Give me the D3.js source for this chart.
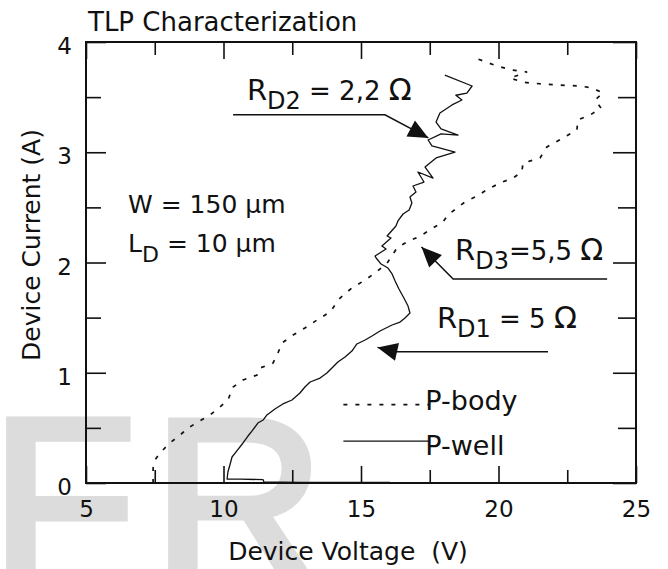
<!DOCTYPE html>
<html>
<head>
<meta charset="utf-8">
<script src="https://cdn.jsdelivr.net/npm/d3@7"></script>
<style>
  body { margin: 0; background: #fff; }
  text { font-family: "DejaVu Sans", sans-serif; fill: #111; }
</style>
</head>
<body>
<div id="chart"></div>
<script>
// x ticks (V) and y ticks (A)
const xMajor = [5, 10, 15, 20, 25];
const xMinor = [7.5, 12.5, 17.5, 22.5];
const yMajor = [0, 1, 2, 3, 4];
const yMinor = [0.5, 1.5, 2.5, 3.5];

// P-well (solid) measured points
const pwellV = [16.05, 12.78, 11.47, 11.44, 10.6, 10.13, 10.16, 10.24, 10.31, 10.45, 10.71, 10.89, 11.04, 11.25, 11.44,
  11.58, 11.87, 12.16, 12.49, 12.78, 12.96, 13.15, 13.51, 13.76, 13.98, 14.16, 14.42, 14.67, 14.85, 15.15, 15.40,
  15.69, 16.13, 16.42, 16.6, 16.78, 16.71, 16.56, 16.38, 16.24, 16.13, 15.98, 15.73, 15.55, 15.51, 15.91, 15.76,
  16.09, 15.95, 16.27, 16.35, 16.53, 16.75, 16.85, 16.78, 17.0, 16.89, 17.29, 17.07, 17.62, 17.33, 17.73, 18.42,
  17.58, 17.44, 17.91, 18.53, 17.91, 17.73, 17.87, 18.31, 18.67, 18.45, 18.85, 19.04, 18.05];
const pwellI = [0.005, 0.005, 0.01, 0.03, 0.036, 0.036, 0.10, 0.17, 0.236, 0.28, 0.363, 0.426, 0.472, 0.544, 0.571,
  0.617, 0.671, 0.717, 0.753, 0.816, 0.871, 0.916, 0.952, 0.998, 1.052, 1.098, 1.143, 1.197, 1.261, 1.297, 1.333,
  1.379, 1.433, 1.46, 1.497, 1.542, 1.605, 1.678, 1.76, 1.832, 1.896, 1.95, 1.986, 2.041, 2.059, 2.122, 2.15,
  2.222, 2.24, 2.331, 2.38, 2.44, 2.476, 2.54, 2.594, 2.639, 2.694, 2.73, 2.821, 2.766, 2.866, 2.948, 3.002,
  3.057, 3.111, 3.166, 3.156, 3.211, 3.274, 3.356, 3.429, 3.474, 3.517, 3.537, 3.601, 3.70];

// P-body (dashed) measured points
const pbodyV = [7.44, 7.44, 7.51, 7.69, 8.05, 8.42, 8.71, 9.07, 9.51, 9.87, 10.16, 10.35, 10.71, 11.22, 11.33, 11.8,
  11.98, 12.13, 12.53, 12.96, 13.4, 13.87, 14.24, 14.67, 15.15, 15.51, 15.95, 16.31, 16.67, 17.15, 17.62, 17.98,
  18.16, 18.49, 18.78, 19.22, 19.62, 20.13, 20.53, 20.85, 20.89, 21.51, 21.76, 22.35, 22.85, 22.89, 23.33, 23.73,
  23.51, 23.8, 23.4, 22.96, 22.13, 21.15, 20.89, 20.42, 21.04, 20.49, 19.95, 19.15];
const pbodyI = [0.0, 0.136, 0.209, 0.272, 0.363, 0.435, 0.499, 0.553, 0.617, 0.689, 0.753, 0.871, 0.934, 0.98, 1.043, 1.088,
  1.179, 1.27, 1.342, 1.406, 1.478, 1.551, 1.678, 1.769, 1.841, 1.905, 1.995, 2.132, 2.186, 2.24, 2.313, 2.367,
  2.431, 2.494, 2.549, 2.603, 2.667, 2.73, 2.766, 2.821, 2.902, 2.948, 3.048, 3.129, 3.202, 3.293, 3.338, 3.401,
  3.474, 3.537, 3.583, 3.601, 3.61, 3.628, 3.637, 3.673, 3.728, 3.746, 3.782, 3.855];

const legendNames = ["P-body", "P-well"];

// annotation arrows: [V, I] polylines, last point is the arrow tip
const arrowRD2 = [[10.35, 3.34], [15.87, 3.34], [17.45, 3.13]];
const arrowRD3 = [[23.95, 1.85], [18.35, 1.85], [17.2, 2.14]];
const arrowRD1 = [[21.8, 1.19], [16.3, 1.19], [15.6, 1.23]];

const width = 668, height = 569;
const svg = d3.select("#chart").append("svg")
  .attr("width", width)
  .attr("height", height);

const x = d3.scaleLinear().domain([5, 25]).range([86, 636]);
const y = d3.scaleLinear().domain([0, 4]).range([483, 42]);

// faint background lettering
["F", "R"].forEach((ch, i) => {
  svg.append("text").attr("x", i === 0 ? -10 : 152).attr("y", 585)
    .style("font-family", "Liberation Sans, Arial").style("font-size", "240px")
    .style("fill", "#dcdcdc").style("stroke", "#dcdcdc").style("stroke-width", 7)
    .text(ch);
});

// title
svg.append("text").attr("x", 88).attr("y", 31).style("font-size", "26px").text("TLP Characterization");

// axes
function styleAxis(g) {
  g.select(".domain").remove();
  g.selectAll(".tick line").attr("stroke", "#111").attr("stroke-width", 1.6);
  g.selectAll(".tick text").style("font-size", "23px").attr("fill", "#111");
}
svg.append("g").attr("transform", "translate(0,483)")
  .call(d3.axisBottom(x).tickValues(xMajor).tickSize(-17).tickPadding(18).tickFormat(d3.format("d")))
  .call(styleAxis);
svg.append("g").attr("transform", "translate(0,483)")
  .call(d3.axisBottom(x).tickValues(xMinor).tickSize(-13).tickFormat(""))
  .call(styleAxis);
svg.append("g").attr("transform", "translate(0,42)")
  .call(d3.axisTop(x).tickValues(xMajor).tickSize(-17).tickFormat(""))
  .call(styleAxis);
svg.append("g").attr("transform", "translate(0,42)")
  .call(d3.axisTop(x).tickValues(xMinor).tickSize(-13).tickFormat(""))
  .call(styleAxis);
svg.append("g").attr("transform", "translate(86,0)")
  .call(d3.axisLeft(y).tickValues(yMajor).tickSize(-20).tickPadding(14).tickFormat(d3.format("d")))
  .call(styleAxis)
  .selectAll(".tick text").attr("dy", "0.5em");
svg.append("g").attr("transform", "translate(86,0)")
  .call(d3.axisLeft(y).tickValues(yMinor).tickSize(-15).tickFormat(""))
  .call(styleAxis);
svg.append("g").attr("transform", "translate(636,0)")
  .call(d3.axisRight(y).tickValues(yMajor).tickSize(-23).tickFormat(""))
  .call(styleAxis);
svg.append("g").attr("transform", "translate(636,0)")
  .call(d3.axisRight(y).tickValues(yMinor).tickSize(-18).tickFormat(""))
  .call(styleAxis);

// frame
svg.append("rect")
  .attr("x", x(5)).attr("y", y(4))
  .attr("width", x(25) - x(5)).attr("height", y(0) - y(4))
  .attr("fill", "none").attr("stroke", "#111").attr("stroke-width", 2);

// axis titles
svg.append("text").attr("x", 348).attr("y", 560).attr("text-anchor", "middle")
  .style("font-size", "25px").style("white-space", "pre").text("Device Voltage  (V)");
svg.append("text").attr("transform", "translate(40,245) rotate(-90)").attr("text-anchor", "middle")
  .style("font-size", "25px").text("Device Current (A)");

// curves
const line = d3.line().x(d => x(d[0])).y(d => y(d[1]));
const pbody = pbodyV.map((v, i) => [v, pbodyI[i]]);
const pwell = pwellV.map((v, i) => [v, pwellI[i]]);

svg.append("path").datum(pbody)
  .attr("fill", "none").attr("stroke", "#111").attr("stroke-width", 1.7)
  .attr("stroke-dasharray", "4,8").attr("d", line);
svg.append("path").datum(pwell)
  .attr("fill", "none").attr("stroke", "#111").attr("stroke-width", 1.3)
  .attr("stroke-linejoin", "round").attr("d", line);

// legend
legendNames.forEach((name, i) => {
  const ly = y(0.71 - i * 0.33);
  svg.append("line")
    .attr("x1", x(14.36)).attr("x2", x(17.5))
    .attr("y1", ly).attr("y2", ly)
    .attr("stroke", "#111").attr("stroke-width", i === 0 ? 1.7 : 1.4)
    .attr("stroke-dasharray", i === 0 ? "4,8" : null);
  svg.append("text").attr("x", x(17.34)).attr("y", ly + 5 + i * 9)
    .style("font-size", "27px").text(name);
});

// arrows
function arrow(pts) {
  const p = pts.map(d => [x(d[0]), y(d[1])]);
  svg.append("path").attr("d", d3.line()(p))
    .attr("fill", "none").attr("stroke", "#111").attr("stroke-width", 1.5);
  const a = p[p.length - 1], b = p[p.length - 2];
  const ang = Math.atan2(a[1] - b[1], a[0] - b[0]);
  const L = 20, W = 9;
  const bx = a[0] - L * Math.cos(ang), by = a[1] - L * Math.sin(ang);
  const tri = [a,
    [bx + W * Math.sin(ang), by - W * Math.cos(ang)],
    [bx - W * Math.sin(ang), by + W * Math.cos(ang)]];
  svg.append("path").attr("d", d3.line()(tri) + "Z").attr("fill", "#111");
}
arrow(arrowRD2);
arrow(arrowRD3);
arrow(arrowRD1);

// labels with subscripts
function label(v, i, parts) {
  const t = svg.append("text").attr("x", x(v)).attr("y", y(i)).style("white-space", "pre");
  parts.forEach(p => {
    t.append("tspan").attr("dy", p.dy || 0).style("font-size", p.size + "px").text(p.t);
  });
}
label(10.85, 3.474, [{t: "R", size: 29}, {t: "D2", size: 24, dy: 9}, {t: " = 2,2 ", size: 26, dy: -9}, {t: "Ω", size: 30}]);
label(18.42, 2.023, [{t: "R", size: 29}, {t: "D3", size: 24, dy: 9}, {t: "=5,5 ", size: 26, dy: -9}, {t: "Ω", size: 30}]);
label(17.76, 1.406, [{t: "R", size: 29}, {t: "D1", size: 24, dy: 9}, {t: " = 5 ", size: 26, dy: -9}, {t: "Ω", size: 30}]);
label(6.53, 2.449, [{t: "W = 150 µm", size: 25}]);
label(6.53, 2.095, [{t: "L", size: 25}, {t: "D", size: 22, dy: 10}, {t: " = 10 µm", size: 25, dy: -10}]);
</script>
</body>
</html>
